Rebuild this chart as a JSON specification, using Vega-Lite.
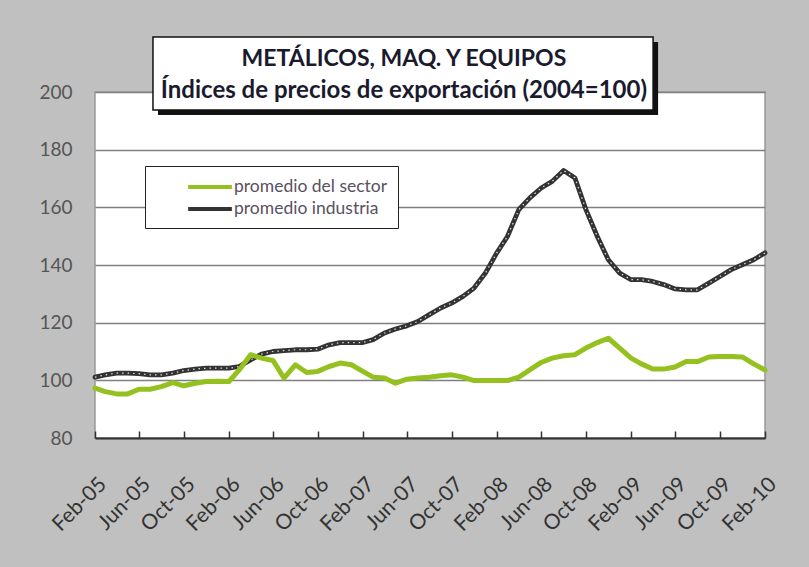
{
  "$schema": "https://vega.github.io/schema/vega-lite/v6.json",
  "width": 670,
  "height": 346,
  "autosize": {"type": "none"},
  "padding": {"left": 95, "top": 92, "right": 44, "bottom": 129},
  "background": "#C0C0C0",
  "data": {
    "values": [
      {"fecha": "2005-02-01", "sector": 97.3, "industria": 101.1},
      {"fecha": "2005-03-01", "sector": 96.1, "industria": 101.9},
      {"fecha": "2005-04-01", "sector": 95.3, "industria": 102.5},
      {"fecha": "2005-05-01", "sector": 95.3, "industria": 102.5},
      {"fecha": "2005-06-01", "sector": 96.9, "industria": 102.3},
      {"fecha": "2005-07-01", "sector": 96.9, "industria": 101.9},
      {"fecha": "2005-08-01", "sector": 97.8, "industria": 101.9},
      {"fecha": "2005-09-01", "sector": 99.2, "industria": 102.5},
      {"fecha": "2005-10-01", "sector": 98.1, "industria": 103.4},
      {"fecha": "2005-11-01", "sector": 99.0, "industria": 103.9},
      {"fecha": "2005-12-01", "sector": 99.6, "industria": 104.2},
      {"fecha": "2006-01-01", "sector": 99.7, "industria": 104.2},
      {"fecha": "2006-02-01", "sector": 99.6, "industria": 104.2},
      {"fecha": "2006-03-01", "sector": 103.6, "industria": 104.8},
      {"fecha": "2006-04-01", "sector": 108.9, "industria": 107.1},
      {"fecha": "2006-05-01", "sector": 107.7, "industria": 109.1},
      {"fecha": "2006-06-01", "sector": 106.9, "industria": 110.0},
      {"fecha": "2006-07-01", "sector": 100.8, "industria": 110.3},
      {"fecha": "2006-08-01", "sector": 105.4, "industria": 110.6},
      {"fecha": "2006-09-01", "sector": 102.7, "industria": 110.6},
      {"fecha": "2006-10-01", "sector": 103.1, "industria": 110.8},
      {"fecha": "2006-11-01", "sector": 104.8, "industria": 112.3},
      {"fecha": "2006-12-01", "sector": 106.0, "industria": 113.1},
      {"fecha": "2007-01-01", "sector": 105.4, "industria": 113.1},
      {"fecha": "2007-02-01", "sector": 103.1, "industria": 113.1},
      {"fecha": "2007-03-01", "sector": 101.1, "industria": 114.1},
      {"fecha": "2007-04-01", "sector": 100.8, "industria": 116.4},
      {"fecha": "2007-05-01", "sector": 99.0, "industria": 117.8},
      {"fecha": "2007-06-01", "sector": 100.4, "industria": 118.9},
      {"fecha": "2007-07-01", "sector": 100.8, "industria": 120.4},
      {"fecha": "2007-08-01", "sector": 101.1, "industria": 122.8},
      {"fecha": "2007-09-01", "sector": 101.6, "industria": 125.1},
      {"fecha": "2007-10-01", "sector": 101.9, "industria": 126.8},
      {"fecha": "2007-11-01", "sector": 101.1, "industria": 129.1},
      {"fecha": "2007-12-01", "sector": 99.9, "industria": 132.0},
      {"fecha": "2008-01-01", "sector": 99.9, "industria": 137.2},
      {"fecha": "2008-02-01", "sector": 99.9, "industria": 144.2},
      {"fecha": "2008-03-01", "sector": 99.9, "industria": 149.9},
      {"fecha": "2008-04-01", "sector": 101.1, "industria": 159.2},
      {"fecha": "2008-05-01", "sector": 103.6, "industria": 163.3},
      {"fecha": "2008-06-01", "sector": 106.2, "industria": 166.7},
      {"fecha": "2008-07-01", "sector": 107.7, "industria": 169.0},
      {"fecha": "2008-08-01", "sector": 108.5, "industria": 172.8},
      {"fecha": "2008-09-01", "sector": 108.9, "industria": 170.2},
      {"fecha": "2008-10-01", "sector": 111.2, "industria": 159.2},
      {"fecha": "2008-11-01", "sector": 113.1, "industria": 149.9},
      {"fecha": "2008-12-01", "sector": 114.6, "industria": 141.8},
      {"fecha": "2009-01-01", "sector": 111.2, "industria": 137.2},
      {"fecha": "2009-02-01", "sector": 107.7, "industria": 134.9},
      {"fecha": "2009-03-01", "sector": 105.7, "industria": 134.9},
      {"fecha": "2009-04-01", "sector": 103.9, "industria": 134.3},
      {"fecha": "2009-05-01", "sector": 103.9, "industria": 133.2},
      {"fecha": "2009-06-01", "sector": 104.6, "industria": 131.7},
      {"fecha": "2009-07-01", "sector": 106.5, "industria": 131.4},
      {"fecha": "2009-08-01", "sector": 106.5, "industria": 131.4},
      {"fecha": "2009-09-01", "sector": 108.1, "industria": 133.7},
      {"fecha": "2009-10-01", "sector": 108.3, "industria": 136.0},
      {"fecha": "2009-11-01", "sector": 108.3, "industria": 138.4},
      {"fecha": "2009-12-01", "sector": 108.1, "industria": 140.1},
      {"fecha": "2010-01-01", "sector": 105.7, "industria": 141.8},
      {"fecha": "2010-02-01", "sector": 103.6, "industria": 144.2}
    ]
  },
  "encoding": {
    "y": {
      "type": "quantitative",
      "scale": {"domain": [80, 200], "zero": false, "nice": false},
      "axis": {
        "title": null,
        "values": [80, 100, 120, 140, 160, 180, 200],
        "labelFont": "Lato",
        "labelFontSize": 19,
        "labelColor": "#555555",
        "labelPadding": 23,
        "ticks": false,
        "domain": false,
        "grid": true,
        "gridColor": "#808080",
        "gridWidth": 1.5
      }
    }
  },
  "layer": [
    {
      "encoding": {
        "x": {
          "field": "fecha",
          "type": "temporal",
          "scale": {
            "type": "utc",
            "domain": [
              {"year": 2005, "month": 2, "date": 1, "utc": true},
              {"year": 2010, "month": 2, "date": 1, "utc": true}
            ]
          },
          "axis": {
            "title": null,
            "format": "%b-%y",
            "values": [
              {"year": 2005, "month": 2, "date": 1, "utc": true},
              {"year": 2005, "month": 6, "date": 1, "utc": true},
              {"year": 2005, "month": 10, "date": 1, "utc": true},
              {"year": 2006, "month": 2, "date": 1, "utc": true},
              {"year": 2006, "month": 6, "date": 1, "utc": true},
              {"year": 2006, "month": 10, "date": 1, "utc": true},
              {"year": 2007, "month": 2, "date": 1, "utc": true},
              {"year": 2007, "month": 6, "date": 1, "utc": true},
              {"year": 2007, "month": 10, "date": 1, "utc": true},
              {"year": 2008, "month": 2, "date": 1, "utc": true},
              {"year": 2008, "month": 6, "date": 1, "utc": true},
              {"year": 2008, "month": 10, "date": 1, "utc": true},
              {"year": 2009, "month": 2, "date": 1, "utc": true},
              {"year": 2009, "month": 6, "date": 1, "utc": true},
              {"year": 2009, "month": 10, "date": 1, "utc": true},
              {"year": 2010, "month": 2, "date": 1, "utc": true}
            ],
            "labelAngle": -45,
            "labelFont": "Lato",
            "labelFontSize": 21,
            "labelColor": "#333333",
            "labelPadding": 42,
            "labelOverlap": false,
            "labelFlush": false,
            "grid": false,
            "domainColor": "#333333",
            "domainWidth": 2,
            "tickColor": "#333333",
            "tickWidth": 1.5,
            "tickSize": -7
          }
        }
      },
      "layer": [
        {
          "mark": {"type": "line", "strokeWidth": 4.8, "strokeCap": "round", "strokeJoin": "round"},
          "encoding": {
            "y": {"field": "industria"},
            "color": {
              "datum": "promedio industria",
              "scale": {
                "domain": ["promedio del sector", "promedio industria"],
                "range": ["#94C11F", "#333333"]
              },
              "legend": {
                "title": null,
                "orient": "none",
                "legendX": 50,
                "legendY": 74,
                "fillColor": "#FFFFFF",
                "strokeColor": "#222222",
                "padding": 10,
                "symbolType": "M-2.5,0H2.5",
                "symbolSize": 306,
                "symbolStrokeWidth": 4,
                "symbolOffset": 44,
                "labelFont": "Lato",
                "labelFontSize": 17.5,
                "labelColor": "#5a5060",
                "labelOffset": 13,
                "rowPadding": 2
              }
            }
          }
        },
        {
          "mark": {"type": "line", "strokeWidth": 1.2, "strokeDash": [1.5, 4], "color": "#FFFFFF", "opacity": 0.85},
          "encoding": {"y": {"field": "industria"}}
        },
        {
          "mark": {"type": "line", "strokeWidth": 5, "strokeCap": "round", "strokeJoin": "round"},
          "encoding": {
            "y": {"field": "sector"},
            "color": {"datum": "promedio del sector"}
          }
        }
      ]
    },
    {
      "data": {"values": [{}]},
      "layer": [
        {
          "mark": {"type": "rect", "fill": "#111111", "xOffset": 5, "x2Offset": 5, "yOffset": 5, "y2Offset": 5},
          "encoding": {
            "x": {"datum": {"year": 2005, "month": 7, "date": 9, "utc": true}, "type": "temporal", "scale": {"type": "utc"}},
            "x2": {"datum": {"year": 2009, "month": 4, "date": 2, "utc": true}},
            "y": {"datum": 219.1},
            "y2": {"datum": 193.8}
          }
        },
        {
          "mark": {"type": "rect", "fill": "#FFFFFF", "stroke": "#111111", "strokeWidth": 1.5},
          "encoding": {
            "x": {"datum": {"year": 2005, "month": 7, "date": 9, "utc": true}, "type": "temporal", "scale": {"type": "utc"}},
            "x2": {"datum": {"year": 2009, "month": 4, "date": 2, "utc": true}},
            "y": {"datum": 219.1},
            "y2": {"datum": 193.8}
          }
        },
        {
          "mark": {"type": "text", "text": "METÁLICOS, MAQ. Y EQUIPOS", "font": "Lato", "fontSize": 23, "fontWeight": "bold", "color": "#1a1a2e", "align": "center", "baseline": "middle"},
          "encoding": {
            "x": {"datum": {"year": 2007, "month": 5, "date": 24, "utc": true}, "type": "temporal", "scale": {"type": "utc"}},
            "y": {"datum": 211.6}
          }
        },
        {
          "mark": {"type": "text", "text": "Índices de precios de exportación (2004=100)", "font": "Lato", "fontSize": 24, "fontWeight": "bold", "color": "#1a1a2e", "align": "center", "baseline": "middle"},
          "encoding": {
            "x": {"datum": {"year": 2007, "month": 5, "date": 24, "utc": true}, "type": "temporal", "scale": {"type": "utc"}},
            "y": {"datum": 200.3}
          }
        }
      ]
    }
  ],
  "config": {
    "view": {"fill": "#FFFFFF", "stroke": "#999999", "strokeWidth": 1.5}
  }
}
